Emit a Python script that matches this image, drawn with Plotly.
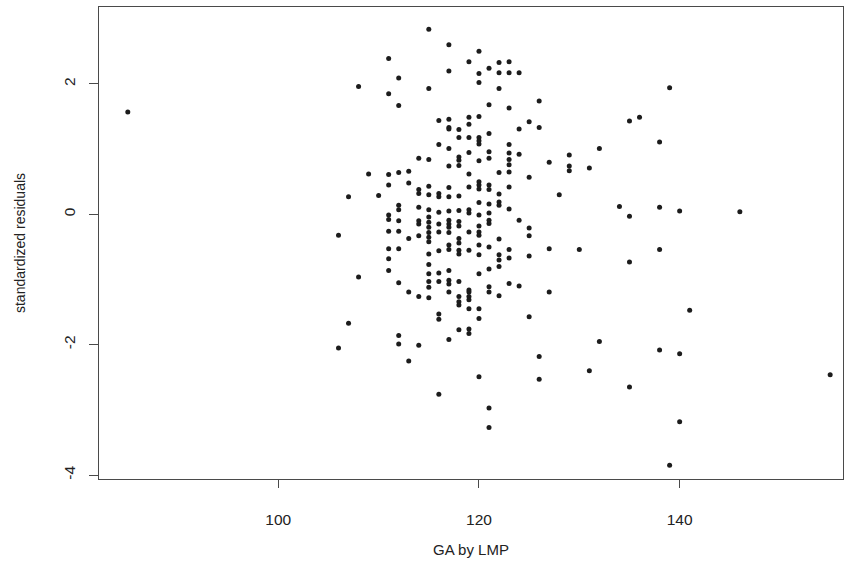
import plotly.graph_objects as go

# Gestational age (GA by LMP) and standardized residuals, grouped by GA value
ga_groups = {
    85: [1.57],
    106: [-0.32, -2.05],
    107: [0.27, -1.67],
    108: [1.96, -0.96],
    109: [0.62],
    110: [0.29],
    111: [2.39, 1.85, 0.61, 0.45, -0.01, -0.08, -0.26, -0.53, -0.68, -0.86],
    112: [2.09, 1.67, 0.64, 0.14, 0.07, -0.10, -0.26, -0.53, -1.05, -1.86, -1.99],
    113: [0.66, 0.48, -0.37, -1.19, -2.25],
    114: [0.86, 0.38, 0.32, 0.11, -0.10, -0.15, -0.33, -1.26, -2.01],
    115: [2.84, 1.93, 0.84, 0.43, 0.30, 0.07, -0.04, -0.12, -0.20, -0.28, -0.35,
          -0.42, -0.61, -0.77, -0.91, -1.03, -1.12, -1.28],
    116: [1.44, 1.07, 0.32, 0.27, 0.03, -0.15, -0.27, -0.56, -0.90, -1.03, -1.53,
          -1.61, -2.76],
    117: [2.60, 2.20, 1.46, 1.33, 1.31, 1.01, 0.74, 0.41, 0.27, 0.05, -0.09, -0.15,
          -0.20, -0.28, -0.47, -0.54, -0.86, -1.01, -1.07, -1.19, -1.92],
    118: [1.30, 1.18, 0.88, 0.83, 0.75, 0.28, 0.06, -0.11, -0.18, -0.37, -0.44,
          -0.55, -0.61, -1.03, -1.26, -1.34, -1.39, -1.77],
    119: [2.34, 1.49, 1.38, 1.18, 0.95, 0.62, 0.42, 0.07, 0.02, -0.27, -0.55,
          -1.16, -1.19, -1.26, -1.31, -1.45, -1.76, -1.83],
    120: [2.50, 2.16, 2.02, 1.50, 1.18, 1.13, 1.08, 0.82, 0.50, 0.45, 0.39, 0.18,
          -0.01, -0.18, -0.27, -0.32, -0.47, -0.62, -0.91, -1.45, -1.60, -2.49],
    121: [2.24, 1.68, 1.24, 0.96, 0.86, 0.45, 0.38, 0.16, 0.02, -0.09, -0.14,
          -0.50, -0.84, -1.11, -1.19, -2.97, -3.27],
    122: [2.33, 2.17, 1.93, 0.64, 0.31, 0.19, 0.14, -0.38, -0.62, -0.70, -0.80, -1.25],
    123: [2.34, 2.17, 1.63, 1.07, 0.94, 0.84, 0.76, 0.65, 0.42, 0.08, -0.54, -0.67, -1.06],
    124: [2.17, 1.31, 0.92, -0.09, -1.10],
    125: [1.42, 0.57, -0.21, -0.33, -0.64, -1.57],
    126: [1.74, 1.33, -2.18, -2.53],
    127: [0.80, -0.53, -1.19],
    128: [0.30],
    129: [0.91, 0.74, 0.67],
    130: [-0.54],
    131: [0.71, -2.40],
    132: [1.01, -1.95],
    134: [0.12],
    135: [1.43, -0.03, -0.73, -2.65],
    136: [1.49],
    138: [1.11, 0.11, -0.54, -2.08],
    139: [1.94, -3.85],
    140: [0.05, -2.14, -3.18],
    141: [-1.47],
    146: [0.04],
    155: [-2.46],
}

ga = [g for g, vals in ga_groups.items() for _ in vals]
residuals = [v for vals in ga_groups.values() for v in vals]

x_ticks = [100, 120, 140]
y_ticks = [-4, -2, 0, 2]

font_family = "Liberation Sans, Arial, sans-serif"
line_col = "#4a4a4a"
text_col = "#222222"

fig = go.Figure(
    go.Scatter(
        x=ga,
        y=residuals,
        mode="markers",
        marker=dict(size=5, color="#1c1c1c", line=dict(width=0)),
        showlegend=False,
        hoverinfo="x+y",
    )
)

fig.update_layout(
    width=846,
    height=583,
    margin=dict(l=99, r=3, t=7, b=104),
    paper_bgcolor="white",
    plot_bgcolor="white",
    font=dict(family=font_family, size=14, color=text_col),
    xaxis=dict(
        range=[82.13, 156.28],
        tickvals=x_ticks,
        ticktext=[str(t) for t in x_ticks],
        ticks="outside",
        ticklen=8,
        tickwidth=1,
        tickcolor=line_col,
        showline=True,
        linecolor=line_col,
        linewidth=1.2,
        mirror=True,
        showgrid=False,
        zeroline=False,
        ticklabelstandoff=18,
        tickfont=dict(size=15.5, color=text_col),
        title=dict(text="GA by LMP", standoff=17,
                   font=dict(size=15, color=text_col)),
    ),
    yaxis=dict(
        range=[-4.06, 3.18],
        tickvals=y_ticks,
        ticktext=[str(t) for t in y_ticks],
        tickangle=-90,
        ticks="outside",
        ticklen=9,
        tickwidth=1,
        tickcolor=line_col,
        showline=True,
        linecolor=line_col,
        linewidth=1.2,
        mirror=True,
        showgrid=False,
        zeroline=False,
        ticklabelstandoff=8,
        tickfont=dict(size=15.5, color=text_col),
        title=dict(text="standardized residuals", standoff=31,
                   font=dict(size=14, color=text_col)),
    ),
)

fig.write_html("out.html")
